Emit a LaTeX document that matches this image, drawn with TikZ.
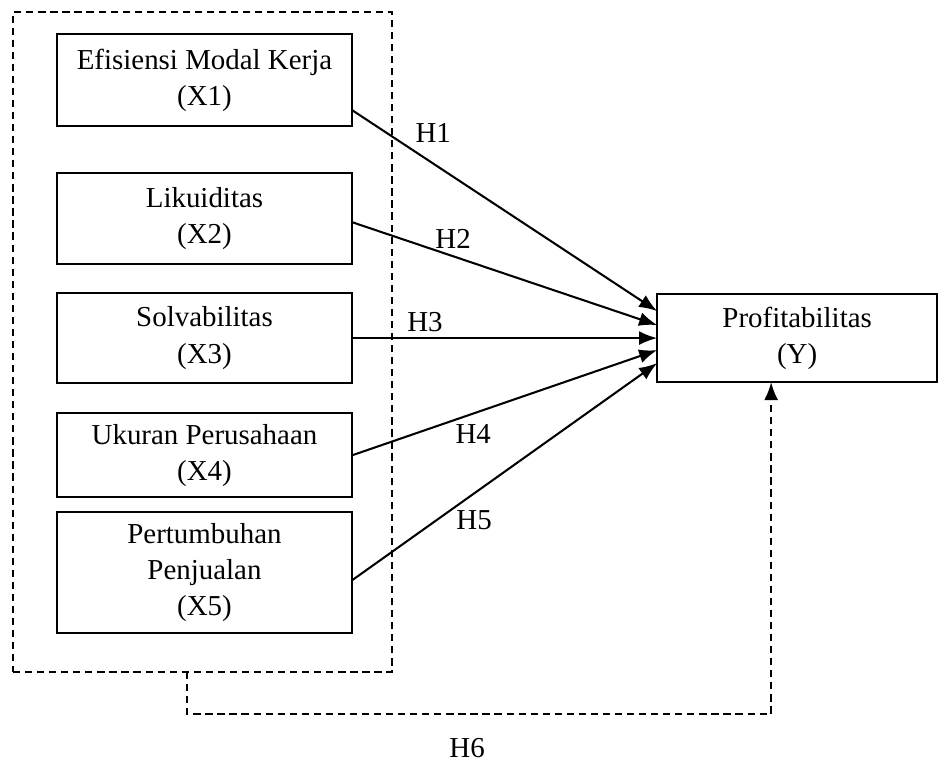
\documentclass[tikz,border=0pt]{standalone}
\usepackage{fontspec}
\setmainfont{Liberation Serif}
\usetikzlibrary{arrows.meta,positioning}

\begin{document}
\begin{tikzpicture}
    [
    x=0.415pt, y=-0.415pt,
    node distance=12pt and 126.6pt,
    var/.style ={
        rectangle,
        draw=black,
        line width=0.8pt,
        align=center,
        minimum width=122.5pt,
        inner sep=2pt,
        outer sep=0pt
    },
    group/.style ={
        rectangle,
        draw=black,
        line width=0.8pt,
        dash pattern=on 3pt off 2pt,
        minimum width=157.3pt,
        minimum height=273.9pt,
        outer sep=0pt
    },
    a/.style={
        line width=0.85pt,
        -{Latex[length=7.5pt,width=5.8pt]}
    },
    lbl/.style={
        inner sep=0pt
    }
    ]
    \fontsize{12}{15}\selectfont
    \useasboundingbox (0,0) rectangle (938,760);

    \node (grp)[group] at (202.5,342) {};

    \node (x1)[var,minimum height=38.2pt] at (204.5,80) {Efisiensi Modal Kerja\\(X1)};
    \node (x2)[var,minimum height=37.8pt,below=19.5pt of x1] {Likuiditas\\(X2)};
    \node (x3)[var,minimum height=37.4pt,below=12pt of x2] {Solvabilitas\\(X3)};
    \node (x4)[var,minimum height=34.9pt,below=12.5pt of x3] {Ukuran Perusahaan\\(X4)};
    \node (x5)[var,minimum height=50.2pt,below=6.2pt of x4] {Pertumbuhan\\Penjualan\\(X5)};

    \node (y)[var,minimum width=116.2pt,minimum height=36.5pt,right=of x3] {Profitabilitas\\(Y)};

    \draw[a] ([yshift=-12.5pt]x1.east) -- node[lbl,pos=0.266,yshift=12.7pt] {H1} ([yshift=11.2pt]y.west);
    \draw[a] ([yshift=-1.5pt]x2.east) -- node[lbl,pos=0.331,yshift=7pt] {H2} ([yshift=5.4pt]y.west);
    \draw[a] (x3.east) -- node[lbl,pos=0.239,yshift=6.6pt] {H3} (y.west);
    \draw[a] (x4.east) -- node[lbl,pos=0.397,yshift=-8.4pt] {H4} ([yshift=-5pt]y.west);
    \draw[a] ([yshift=-3.1pt]x5.east) -- node[lbl,pos=0.4,yshift=-11.2pt] {H5} ([yshift=-10.4pt]y.west);

    \draw[a,dash pattern=on 3pt off 2pt] ([xshift=-6.4pt]grp.south) -- ++(0,42)
        -| node[lbl,pos=0.25,xshift=-5pt,yshift=-14.1pt] {H6} ([xshift=-10.8pt]y.south);

\end{tikzpicture}
\end{document}
